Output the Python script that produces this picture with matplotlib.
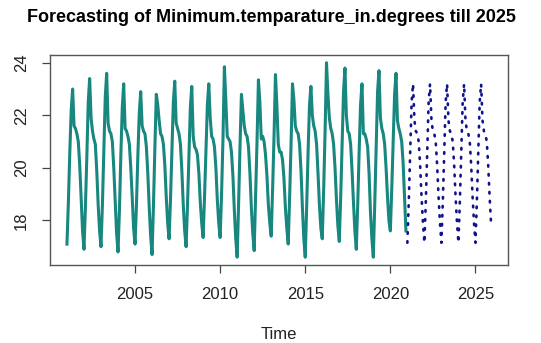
import numpy as np
import matplotlib
matplotlib.use("Agg")
import matplotlib.pyplot as plt

plt.rcParams['font.family'] = ['Liberation Sans', 'DejaVu Sans']

# monthly minimum temperature, Jan..Dec, observed 2001-2020
observed = {
    2001: [17.1, 18.7, 20.6, 22.2, 23.0, 21.6, 21.5, 21.3, 21.0, 20.1, 18.8, 17.6],
    2002: [16.9, 18.5, 20.4, 22.5, 23.4, 21.9, 21.4, 21.1, 20.9, 19.9, 18.6, 17.6],
    2003: [17.0, 18.6, 20.6, 22.7, 23.6, 21.7, 21.4, 21.3, 21.0, 20.0, 18.7, 17.5],
    2004: [16.8, 18.4, 20.5, 22.3, 23.2, 21.5, 21.4, 21.2, 20.9, 20.0, 18.9, 17.7],
    2005: [17.1, 18.6, 20.5, 22.1, 22.9, 21.6, 21.4, 21.3, 20.8, 19.8, 18.5, 17.4],
    2006: [16.7, 18.6, 20.8, 22.8, 22.4, 21.8, 21.3, 21.2, 20.9, 20.1, 18.9, 17.9],
    2007: [17.3, 18.8, 20.7, 22.5, 23.3, 21.7, 21.5, 21.3, 20.9, 19.9, 18.6, 17.6],
    2008: [17.0, 18.6, 20.5, 22.3, 23.1, 21.2, 20.8, 20.7, 20.5, 19.8, 18.7, 17.9],
    2009: [17.35, 18.9, 20.7, 22.4, 23.2, 21.9, 21.2, 21.1, 20.8, 20.0, 18.8, 17.9],
    2010: [17.35, 19.0, 21.1, 23.85, 22.6, 21.2, 21.1, 21.0, 20.6, 19.7, 18.4, 17.3],
    2011: [16.6, 18.6, 20.8, 22.8, 22.2, 21.6, 21.3, 21.2, 20.8, 19.8, 18.5, 17.5],
    2012: [16.85, 18.9, 21.0, 23.35, 22.5, 21.1, 21.2, 21.0, 20.5, 19.7, 18.6, 17.9],
    2013: [17.4, 19.2, 21.2, 23.55, 22.4, 20.9, 20.6, 20.6, 20.3, 19.6, 18.5, 17.7],
    2014: [17.1, 18.9, 20.9, 23.2, 22.6, 21.6, 21.4, 21.3, 20.9, 19.9, 18.5, 17.3],
    2015: [16.6, 18.5, 20.6, 22.4, 23.1, 22.0, 21.6, 21.4, 20.9, 19.8, 18.6, 17.7],
    2016: [17.3, 19.2, 21.4, 24.0, 22.8, 21.9, 21.5, 21.3, 20.9, 20.0, 18.8, 17.8],
    2017: [17.2, 18.9, 20.9, 22.9, 23.8, 22.0, 21.4, 21.3, 20.9, 19.9, 18.7, 17.6],
    2018: [16.9, 18.6, 20.6, 22.4, 23.2, 21.3, 21.3, 21.1, 20.8, 19.8, 18.3, 17.3],
    2019: [16.6, 18.6, 20.8, 22.9, 23.7, 21.9, 21.5, 21.3, 20.9, 20.0, 18.9, 18.0],
    2020: [17.6, 19.2, 21.0, 22.8, 23.6, 21.8, 21.5, 21.3, 21.0, 20.2, 18.9, 17.6],
}

# forecast 2021-2025
forecast = {
    2021: [17.15, 18.7, 20.6, 22.5, 23.2, 21.8, 21.4, 21.3, 21.0, 20.1, 18.9, 17.9],
    2022: [17.15, 18.7, 20.6, 22.5, 23.2, 21.8, 21.4, 21.3, 21.0, 20.1, 18.9, 17.9],
    2023: [17.15, 18.7, 20.6, 22.5, 23.2, 21.8, 21.4, 21.3, 21.0, 20.1, 18.9, 17.9],
    2024: [17.15, 18.7, 20.6, 22.5, 23.2, 21.8, 21.4, 21.3, 21.0, 20.1, 18.9, 17.9],
    2025: [17.15, 18.7, 20.6, 22.5, 23.2, 21.8, 21.4, 21.3, 21.0, 20.1, 18.9, 17.9],
}


def to_series(d):
    t, v = [], []
    for yr, vals in d.items():
        for m, val in enumerate(vals):
            t.append(yr + m / 12)
            v.append(val)
    return np.array(t), np.array(v)


t_obs, y_obs = to_series(observed)
t_fc, y_fc = to_series(forecast)

fig = plt.figure(figsize=(5.41, 3.43), dpi=100)
ax = fig.add_axes([50 / 541, 78 / 343, 458 / 541, 210 / 343])

ax.plot(t_obs, y_obs, color="#17877f", lw=2.2)
ax.plot(t_fc, y_fc, color="#12128a", lw=1.9, linestyle=(0, (0.6, 2.8)),
        dash_capstyle="round")

# R style 4% padding
tall = np.concatenate([t_obs, t_fc])
yall = np.concatenate([y_obs, y_fc])
xr = tall.max() - tall.min()
yr_ = yall.max() - yall.min()
ax.set_xlim(tall.min() - 0.04 * xr, tall.max() + 0.04 * xr)
ax.set_ylim(yall.min() - 0.04 * yr_, yall.max() + 0.04 * yr_)

ax.set_xticks([2005, 2010, 2015, 2020, 2025])
ax.set_yticks([18, 20, 22, 24])
ax.tick_params(axis="both", length=6, width=0.9, color="#444444",
               labelsize=12, labelcolor="#222222", pad=10)
ax.tick_params(axis="y", pad=9)
for lab in ax.get_yticklabels():
    lab.set_rotation(90)
    lab.set_va("center")
for s in ax.spines.values():
    s.set_color("#555555")
    s.set_linewidth(1.0)

ax.set_xlabel("Time", fontsize=12, color="#222222", labelpad=18)
fig.text(271 / 541, 1 - 17.5 / 343,
         "Forecasting of Minimum.temparature_in.degrees till 2025",
         ha="center", va="center", fontsize=13, fontweight="bold")

plt.savefig("out.png", dpi=100)
